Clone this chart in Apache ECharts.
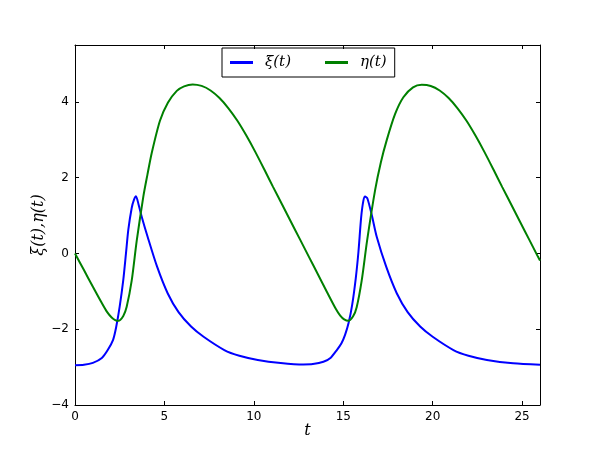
<!DOCTYPE html>
<html>
<head>
<meta charset="utf-8">
<script src="https://cdn.jsdelivr.net/npm/echarts@6/dist/echarts.min.js"></script>
<style>
html,body{margin:0;padding:0;background:#fff;}
#chart{width:599px;height:450px;}
</style>
</head>
<body>
<div id="chart"></div>
<script>
// ξ(t) samples
const xiT = [0, 0.5, 1.0, 1.5, 1.83, 2.13, 2.3, 2.5, 2.7, 2.85, 2.98, 3.17, 3.3, 3.41, 3.55, 3.73, 4.06, 4.59, 5.18, 5.79, 6.49, 7.19, 8.35, 9.19, 10.22, 11.5, 12.77, 13.3, 13.89, 14.3, 14.64, 14.9, 15.1, 15.3, 15.5, 15.7, 15.85, 16.0, 16.12, 16.22, 16.35, 16.6, 16.87, 17.4, 17.99, 18.6, 19.3, 20.0, 21.16, 22.0, 23.03, 24.5, 26];
const xiV = [-2.95, -2.94, -2.89, -2.76, -2.55, -2.28, -1.95, -1.40, -0.70, 0.0, 0.62, 1.20, 1.42, 1.51, 1.30, 0.97, 0.44, -0.35, -1.05, -1.55, -1.93, -2.20, -2.55, -2.70, -2.81, -2.89, -2.93, -2.92, -2.86, -2.75, -2.55, -2.37, -2.15, -1.83, -1.35, -0.65, 0.05, 0.95, 1.38, 1.50, 1.45, 1.00, 0.44, -0.35, -1.05, -1.55, -1.93, -2.20, -2.55, -2.70, -2.81, -2.90, -2.94];
// η(t) samples
const etaT = [0, 0.5, 1.0, 1.5, 1.8, 2.05, 2.25, 2.42, 2.7, 2.89, 3.17, 3.45, 3.82, 4.05, 4.29, 4.75, 5.2, 5.69, 6.1, 6.58, 7.08, 7.58, 8.08, 8.58, 9.08, 9.58, 10.08, 10.58, 11.08, 11.58, 12.08, 12.58, 13.08, 13.58, 14.08, 14.58, 14.83, 15.05, 15.28, 15.55, 15.75, 16.03, 16.33, 16.78, 17.1, 17.43, 17.9, 18.36, 18.9, 19.39, 19.89, 20.39, 20.89, 21.39, 21.89, 22.39, 22.89, 23.39, 23.89, 24.39, 24.89, 25.39, 25.89, 26];
const etaV = [0, -0.44, -0.88, -1.31, -1.55, -1.69, -1.76, -1.78, -1.65, -1.41, -0.72, 0.33, 1.50, 2.08, 2.65, 3.50, 3.98, 4.29, 4.41, 4.46, 4.42, 4.30, 4.10, 3.83, 3.50, 3.11, 2.68, 2.22, 1.75, 1.29, 0.83, 0.37, -0.09, -0.55, -1.01, -1.46, -1.64, -1.74, -1.78, -1.66, -1.42, -0.72, 0.33, 1.67, 2.40, 2.99, 3.68, 4.12, 4.38, 4.45, 4.42, 4.30, 4.10, 3.83, 3.50, 3.11, 2.68, 2.22, 1.75, 1.29, 0.83, 0.37, -0.09, -0.19];
const xTicks = [0, 5, 10, 15, 20, 25];
const yTicks = [-4, -2, 0, 2, 4];
const seriesNames = ['ξ(t)', 'η(t)'];

const zip = (a, b) => a.map((v, i) => [v, b[i]]);
const fmt = v => (v < 0 ? '\u2212' + Math.abs(v) : String(v));
const tickFmt = list => v => (list.indexOf(v) >= 0 ? fmt(v) : '');

const frame = {show: true, onZero: false, lineStyle: {color: '#000', width: 1}};
const tickIn = {show: true, inside: true, length: 4, lineStyle: {color: '#000', width: 1}};
const labelFont = {fontFamily: 'DejaVu Sans', fontSize: 12, color: '#000'};
const nameFont = {fontFamily: 'DejaVu Serif', fontStyle: 'italic', fontSize: 16, color: '#000'};

const chart = echarts.init(document.getElementById('chart'), null, {renderer: 'canvas'});
chart.setOption({
  animation: false,
  backgroundColor: '#fff',
  grid: {left: 75, right: 59, top: 45, bottom: 45, containLabel: false},
  legend: {
    data: seriesNames,
    left: 222, top: 48,
    orient: 'horizontal',
    itemWidth: 23, itemHeight: 3, itemGap: 34,
    padding: [7, 8, 7, 8],
    borderColor: '#000', borderWidth: 1,
    icon: 'rect',
    textStyle: {fontFamily: 'DejaVu Serif', fontStyle: 'italic', fontSize: 15, color: '#000', padding: [0, 0, 0, 7]}
  },
  xAxis: [
    {type: 'value', position: 'bottom', min: 0, max: 26, interval: 5,
     name: 't', nameLocation: 'middle', nameGap: 18, nameMoveOverlap: false, nameTextStyle: nameFont,
     axisLine: frame, axisTick: tickIn, splitLine: {show: false},
     axisLabel: Object.assign({margin: 6, showMaxLabel: false, formatter: tickFmt(xTicks)}, labelFont)},
    {type: 'value', position: 'top', min: 0, max: 26, interval: 5,
     axisLine: frame, axisTick: tickIn, splitLine: {show: false}, axisLabel: {show: false}}
  ],
  yAxis: [
    {type: 'value', position: 'left', min: -4, max: 5.5, interval: 2,
     name: 'ξ(t),η(t)', nameLocation: 'middle', nameGap: 28, nameRotate: 90, nameMoveOverlap: false, nameTextStyle: nameFont,
     axisLine: frame, axisTick: tickIn, splitLine: {show: false},
     axisLabel: Object.assign({margin: 6, showMaxLabel: false, formatter: tickFmt(yTicks)}, labelFont)},
    {type: 'value', position: 'right', min: -4, max: 5.5, interval: 2,
     axisLine: frame, axisTick: tickIn, splitLine: {show: false}, axisLabel: {show: false}}
  ],
  series: [
    {name: seriesNames[0], type: 'line', data: zip(xiT, xiV), showSymbol: false, smooth: 0.25,
     lineStyle: {color: '#0000ff', width: 2}, itemStyle: {color: '#0000ff'}, clip: true},
    {name: seriesNames[1], type: 'line', data: zip(etaT, etaV), showSymbol: false, smooth: 0.25,
     lineStyle: {color: '#008000', width: 2}, itemStyle: {color: '#008000'}, clip: true}
  ]
});
</script>
</body>
</html>
